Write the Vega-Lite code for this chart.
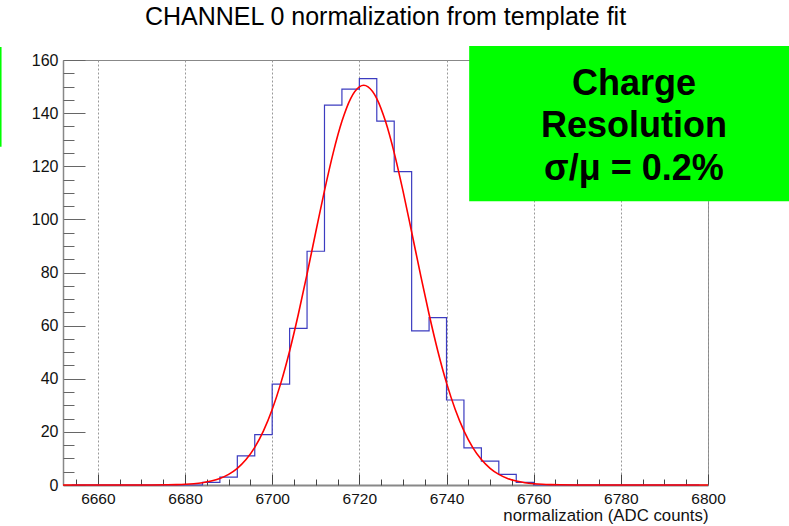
{
  "$schema": "https://vega.github.io/schema/vega-lite/v6.json",
  "width": 645,
  "height": 425,
  "autosize": {"type": "none"},
  "padding": {"left": 63, "top": 60, "right": 81, "bottom": 41},
  "background": "white",
  "title": {
    "text": "CHANNEL 0 normalization from template fit",
    "font": "Liberation Sans",
    "fontSize": 25,
    "fontWeight": "normal",
    "color": "#000000",
    "anchor": "middle",
    "baseline": "alphabetic",
    "offset": -4
  },
  "config": {
    "view": {"stroke": "#888888", "strokeWidth": 1},
    "font": "Liberation Sans"
  },
  "datasets": {
    "hist": [
      {"center": 6654, "count": 0}, {"center": 6658, "count": 0}, {"center": 6662, "count": 0},
      {"center": 6666, "count": 0}, {"center": 6670, "count": 0}, {"center": 6674, "count": 0},
      {"center": 6678, "count": 0}, {"center": 6682, "count": 0}, {"center": 6686, "count": 1},
      {"center": 6690, "count": 3}, {"center": 6694, "count": 11}, {"center": 6698, "count": 19},
      {"center": 6702, "count": 38}, {"center": 6706, "count": 59}, {"center": 6710, "count": 88},
      {"center": 6714, "count": 143}, {"center": 6718, "count": 149}, {"center": 6722, "count": 153},
      {"center": 6726, "count": 137}, {"center": 6730, "count": 118}, {"center": 6734, "count": 58},
      {"center": 6738, "count": 63}, {"center": 6742, "count": 32}, {"center": 6746, "count": 14},
      {"center": 6750, "count": 9}, {"center": 6754, "count": 4}, {"center": 6758, "count": 1},
      {"center": 6762, "count": 0}, {"center": 6766, "count": 0}, {"center": 6770, "count": 0},
      {"center": 6774, "count": 0}, {"center": 6778, "count": 0}, {"center": 6782, "count": 0},
      {"center": 6786, "count": 0}, {"center": 6790, "count": 0}, {"center": 6794, "count": 0},
      {"center": 6798, "count": 0}
    ],
    "fit": [
      {"x": 6652, "y": 0}, {"x": 6660, "y": 0}, {"x": 6668, "y": 0.003}, {"x": 6672, "y": 0.018},
      {"x": 6676, "y": 0.07}, {"x": 6678, "y": 0.14}, {"x": 6680, "y": 0.26}, {"x": 6682, "y": 0.48},
      {"x": 6684, "y": 0.85}, {"x": 6686, "y": 1.47}, {"x": 6688, "y": 2.45}, {"x": 6690, "y": 3.98},
      {"x": 6692, "y": 6.26}, {"x": 6694, "y": 9.56}, {"x": 6696, "y": 14.16}, {"x": 6698, "y": 20.37},
      {"x": 6700, "y": 28.41}, {"x": 6702, "y": 38.44}, {"x": 6704, "y": 50.47}, {"x": 6706, "y": 64.28},
      {"x": 6708, "y": 79.45}, {"x": 6710, "y": 95.25}, {"x": 6712, "y": 110.8}, {"x": 6714, "y": 125.05},
      {"x": 6716, "y": 136.9}, {"x": 6718, "y": 145.5}, {"x": 6720, "y": 149.9}, {"x": 6721, "y": 150.5},
      {"x": 6722, "y": 149.9}, {"x": 6724, "y": 145.5}, {"x": 6726, "y": 136.9}, {"x": 6728, "y": 125.05},
      {"x": 6730, "y": 110.8}, {"x": 6732, "y": 95.25}, {"x": 6734, "y": 79.45}, {"x": 6736, "y": 64.28},
      {"x": 6738, "y": 50.47}, {"x": 6740, "y": 38.44}, {"x": 6742, "y": 28.41}, {"x": 6744, "y": 20.37},
      {"x": 6746, "y": 14.16}, {"x": 6748, "y": 9.56}, {"x": 6750, "y": 6.26}, {"x": 6752, "y": 3.98},
      {"x": 6754, "y": 2.45}, {"x": 6756, "y": 1.47}, {"x": 6758, "y": 0.85}, {"x": 6760, "y": 0.48},
      {"x": 6762, "y": 0.26}, {"x": 6764, "y": 0.14}, {"x": 6766, "y": 0.07}, {"x": 6770, "y": 0.018},
      {"x": 6774, "y": 0.003}, {"x": 6780, "y": 0}, {"x": 6800, "y": 0}
    ],
    "box": [{"line1": "Charge", "line2": "Resolution", "line3": "σ/μ = 0.2%"}]
  },
  "layer": [
    {
      "data": {"name": "hist"},
      "mark": {"type": "line", "interpolate": "step", "color": "#3c3cc0", "strokeWidth": 1.2},
      "encoding": {
        "x": {
          "field": "center", "type": "quantitative",
          "scale": {"domain": [6652, 6800], "nice": false, "zero": false},
          "axis": {
            "orient": "bottom",
            "values": [6660, 6680, 6700, 6720, 6740, 6760, 6780, 6800],
            "format": "d",
            "grid": true, "gridColor": "#999999", "gridDash": [2, 2], "gridWidth": 1,
            "tickSize": -11, "tickColor": "#444444", "tickWidth": 1,
            "domainColor": "#888888", "domainWidth": 2,
            "labelFont": "Liberation Sans", "labelFontSize": 15.5, "labelColor": "#111111",
            "labelPadding": 17, "labelFlush": false,
            "title": "normalization (ADC counts)",
            "titleFont": "Liberation Sans", "titleFontSize": 16.8, "titleFontWeight": "normal",
            "titleColor": "#111111", "titleAlign": "right", "titleAnchor": "end",
            "titleBaseline": "alphabetic", "titleX": 645, "titleY": 35
          }
        },
        "y": {
          "field": "count", "type": "quantitative",
          "scale": {"domain": [0, 160], "nice": false, "zero": false},
          "axis": {
            "orient": "left",
            "values": [0, 20, 40, 60, 80, 100, 120, 140, 160],
            "grid": false,
            "tickSize": -22, "tickColor": "#666666", "tickWidth": 1,
            "domainColor": "#888888", "domainWidth": 1.5,
            "labelFont": "Liberation Sans", "labelFontSize": 16, "labelColor": "#111111",
            "labelPadding": 27, "labelFlush": false,
            "title": null
          }
        }
      }
    },
    {
      "data": {"name": "fit"},
      "mark": {"type": "line", "interpolate": "monotone", "color": "#ff0000", "strokeWidth": 1.6},
      "encoding": {
        "x": {
          "field": "x", "type": "quantitative",
          "scale": {"domain": [6652, 6800], "nice": false, "zero": false},
          "axis": {
            "orient": "bottom",
            "values": [6655, 6665, 6670, 6675, 6685, 6690, 6695, 6705, 6710, 6715, 6725, 6730, 6735, 6745, 6750, 6755, 6765, 6770, 6775, 6785, 6790, 6795],
            "grid": false, "labels": false, "domain": false,
            "tickSize": -6, "tickColor": "#444444", "tickWidth": 1,
            "title": null
          }
        },
        "y": {
          "field": "y", "type": "quantitative",
          "scale": {"domain": [0, 160], "nice": false, "zero": false},
          "axis": {
            "orient": "left",
            "values": [5, 10, 15, 25, 30, 35, 45, 50, 55, 65, 70, 75, 85, 90, 95, 105, 110, 115, 125, 130, 135, 145, 150, 155],
            "grid": false, "labels": false, "domain": false,
            "tickSize": -11, "tickColor": "#666666", "tickWidth": 1,
            "title": null
          }
        }
      }
    },
    {
      "data": {"name": "box"},
      "mark": {"type": "rect", "color": "#00ff00", "clip": false},
      "encoding": {
        "x": {"datum": 6745.2, "type": "quantitative", "scale": {"domain": [6652, 6800], "nice": false, "zero": false}, "axis": null},
        "x2": {"datum": 6830},
        "y": {"datum": 165.3, "type": "quantitative", "scale": {"domain": [0, 160], "nice": false, "zero": false}, "axis": null},
        "y2": {"datum": 106.8}
      }
    },
    {
      "data": {"name": "box"},
      "mark": {"type": "rect", "color": "#00ff00", "clip": false},
      "encoding": {
        "x": {"datum": 6620, "type": "quantitative", "scale": {"domain": [6652, 6800], "nice": false, "zero": false}, "axis": null},
        "x2": {"datum": 6637.9},
        "y": {"datum": 164.9, "type": "quantitative", "scale": {"domain": [0, 160], "nice": false, "zero": false}, "axis": null},
        "y2": {"datum": 127.3}
      }
    },
    {
      "data": {"name": "box"},
      "mark": {"type": "text", "font": "Liberation Sans", "fontSize": 36, "fontWeight": "bold", "color": "#000000", "align": "center", "baseline": "alphabetic", "clip": false},
      "encoding": {
        "x": {"datum": 6783.0, "type": "quantitative", "scale": {"domain": [6652, 6800], "nice": false, "zero": false}, "axis": null},
        "y": {"datum": 146.8, "type": "quantitative", "scale": {"domain": [0, 160], "nice": false, "zero": false}, "axis": null},
        "text": {"field": "line1"}
      }
    },
    {
      "data": {"name": "box"},
      "mark": {"type": "text", "font": "Liberation Sans", "fontSize": 36, "fontWeight": "bold", "color": "#000000", "align": "center", "baseline": "alphabetic", "clip": false},
      "encoding": {
        "x": {"datum": 6783.0, "type": "quantitative", "scale": {"domain": [6652, 6800], "nice": false, "zero": false}, "axis": null},
        "y": {"datum": 131.1, "type": "quantitative", "scale": {"domain": [0, 160], "nice": false, "zero": false}, "axis": null},
        "text": {"field": "line2"}
      }
    },
    {
      "data": {"name": "box"},
      "mark": {"type": "text", "font": "Liberation Sans", "fontSize": 36, "fontWeight": "bold", "color": "#000000", "align": "center", "baseline": "alphabetic", "clip": false},
      "encoding": {
        "x": {"datum": 6783.0, "type": "quantitative", "scale": {"domain": [6652, 6800], "nice": false, "zero": false}, "axis": null},
        "y": {"datum": 114.8, "type": "quantitative", "scale": {"domain": [0, 160], "nice": false, "zero": false}, "axis": null},
        "text": {"field": "line3"}
      }
    }
  ],
  "resolve": {"axis": {"x": "independent", "y": "independent"}}
}
